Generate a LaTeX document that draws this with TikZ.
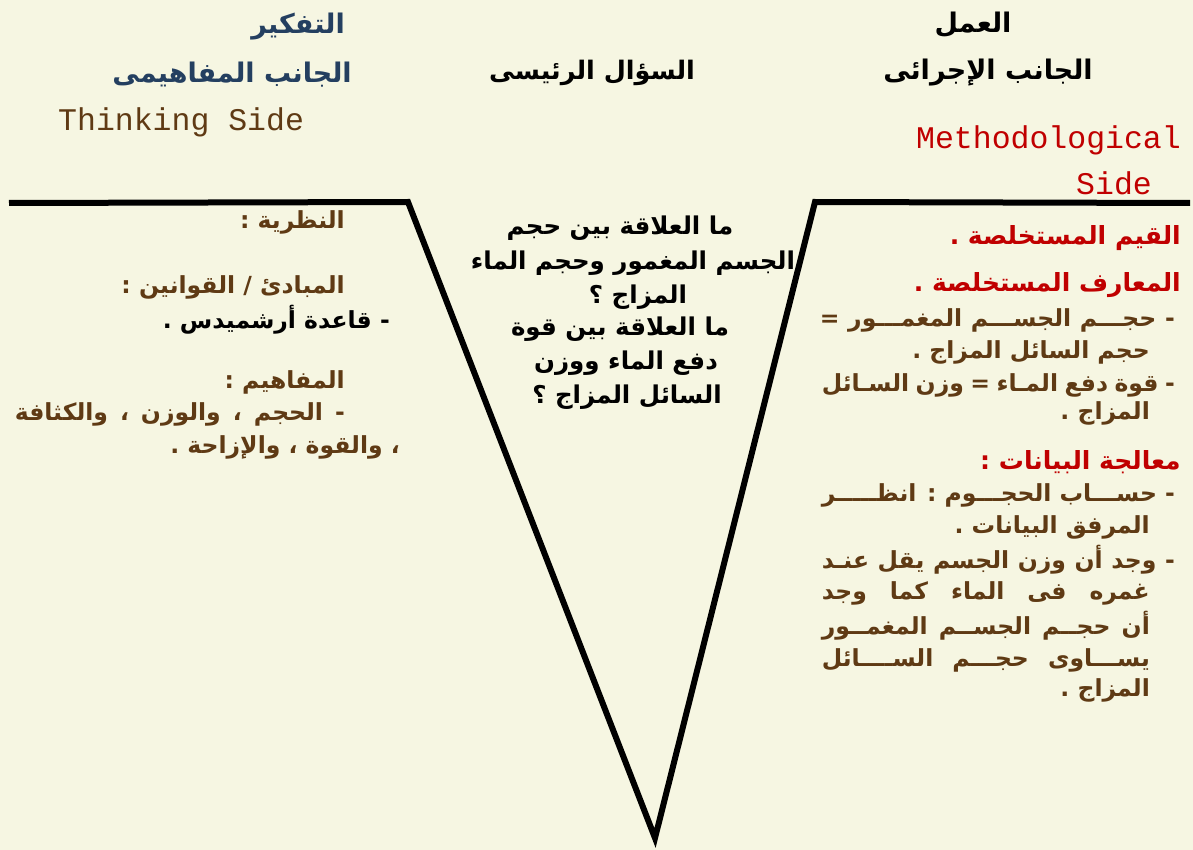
\documentclass[tikz,border=0pt]{standalone}
\usepackage{fontspec}
\TeXXeTstate=1
\newfontfamily\arfont[Script=Arabic]{DejaVu Sans}
\newfontfamily\monofont{Liberation Mono}
\newcommand\rtl[1]{\beginR #1\endR}
% a justified line of a given width
\newcommand\jline[2]{\makebox[#1][s]{#2}}
\definecolor{bg}{HTML}{F6F6E2}
\definecolor{navy}{HTML}{243F60}
\definecolor{brn}{HTML}{5F3A14}
\definecolor{crim}{HTML}{C00000}
\begin{document}
\begin{tikzpicture}[x=1pt,y=-1pt,
  ar/.style={inner sep=0pt, font=\arfont\bfseries\fontsize{23.5}{28}\selectfont},
  arq/.style={inner sep=0pt, font=\arfont\bfseries\fontsize{24.5}{29}\selectfont},
  arr/.style={inner sep=0pt, font=\arfont\bfseries\fontsize{25}{30}\selectfont},
  arh/.style={inner sep=0pt, font=\arfont\bfseries\fontsize{27}{32}\selectfont},
  lat/.style={inner sep=0pt, font=\monofont\fontsize{31.5}{36}\selectfont},
  vee/.style={line width=6pt, line join=miter}]
\fill[bg] (0,0) rectangle (1193,850);
\useasboundingbox (0,0) rectangle (1193,850);

% the V-shaped frame
\coordinate (lend) at (9,203);
\coordinate (lcorner) at (408,202);
\coordinate (tip) at (655,838);
\coordinate (rcorner) at (815,202);
\coordinate (rend) at (1190,203);
\draw[vee] (lend) -- (lcorner) -- (tip) -- (rcorner) -- (rend);

% left headings
\node[arh, navy, anchor=east] (think) at (345,27) {\rtl{التفكير}};
\node[arh, navy, anchor=east] (concept) at (352,75) {\rtl{الجانب المفاهيمى}};
\node[lat, brn, anchor=west] (thinkside) at (58,122) {Thinking Side};

% centre heading
\node[arh, anchor=center, font=\arfont\bfseries\fontsize{25.5}{30}\selectfont] (mainq) at (592,73) {\rtl{السؤال الرئيسى}};

% right headings
\node[arh, anchor=center] (work) at (973,25) {\rtl{العمل}};
\node[arh, anchor=center] (method) at (988,73) {\rtl{الجانب الإجرائى}};
\node[lat, crim, anchor=east] (methodside) at (1181,140) {Methodological};
\node[lat, crim, anchor=east] (methodside2) at (1152,183) {Side};

% left column
\node[ar, brn, anchor=east] (theory) at (345,222) {\rtl{النظرية :}};
\node[ar, brn, anchor=east] (laws) at (345,287) {\rtl{المبادئ / القوانين :}};
\node[ar, anchor=east] (arch) at (390,320) {\rtl{- قاعدة أرشميدس .}};
\node[ar, brn, anchor=east] (concepts) at (345,382) {\rtl{المفاهيم :}};
\node[ar, brn, anchor=east] (clist1) at (345,414) {\jline{330pt}{\beginR - الحجم ، والوزن ، والكثافة\endR}};
\node[ar, brn, anchor=east] (clist2) at (400,447) {\rtl{، والقوة ، والإزاحة .}};

% central question
\node[arq, anchor=center] (q1) at (620,228) {\rtl{ما العلاقة بين حجم}};
\node[arq, anchor=center] (q2) at (633,263) {\rtl{الجسم المغمور وحجم الماء}};
\node[arq, anchor=center] (q3) at (638,297) {\rtl{المزاج ؟}};
\node[arq, anchor=center] (q4) at (620,329) {\rtl{ما العلاقة بين قوة}};
\node[arq, anchor=center] (q5) at (626,363) {\rtl{دفع الماء ووزن}};
\node[arq, anchor=center] (q6) at (627,397) {\rtl{السائل المزاج ؟}};

% right column
\node[arr, crim, anchor=east] (values) at (1181,238) {\rtl{القيم المستخلصة .}};
\node[arr, crim, anchor=east] (knowledge) at (1181,285) {\rtl{المعارف المستخلصة .}};
\node[ar, brn, anchor=east] (k1) at (1175,320) {\jline{355pt}{\beginR - حجـــم الجســـم المغمـــور =\endR}};
\node[ar, brn, anchor=east] (k2) at (1150,352) {\rtl{حجم السائل المزاج .}};
\node[ar, brn, anchor=east] (k3) at (1175,385) {\jline{353pt}{\beginR - قوة دفع المـاء = وزن السـائل\endR}};
\node[ar, brn, anchor=east] (k4) at (1150,413) {\rtl{المزاج .}};
\node[arr, crim, anchor=east] (data) at (1181,462) {\rtl{معالجة البيانات :}};
\node[ar, brn, anchor=east] (d1) at (1175,495) {\jline{353pt}{\beginR - حســـاب الحجـــوم : انظـــــر\endR}};
\node[ar, brn, anchor=east] (d2) at (1150,527) {\rtl{المرفق البيانات .}};
\node[ar, brn, anchor=east] (d3) at (1175,560) {\jline{353pt}{\beginR - وجد أن وزن الجسم يقل عنـد\endR}};
\node[ar, brn, anchor=east] (d4) at (1150,593) {\jline{328pt}{\beginR غمره فى الماء كما وجد\endR}};
\node[ar, brn, anchor=east] (d5) at (1150,626) {\jline{328pt}{\beginR أن حجــم الجســم المغمــور\endR}};
\node[ar, brn, anchor=east] (d6) at (1150,660) {\jline{328pt}{\beginR يســـاوى حجـــم الســــائل\endR}};
\node[ar, brn, anchor=east] (d7) at (1150,690) {\rtl{المزاج .}};
\end{tikzpicture}
\end{document}
